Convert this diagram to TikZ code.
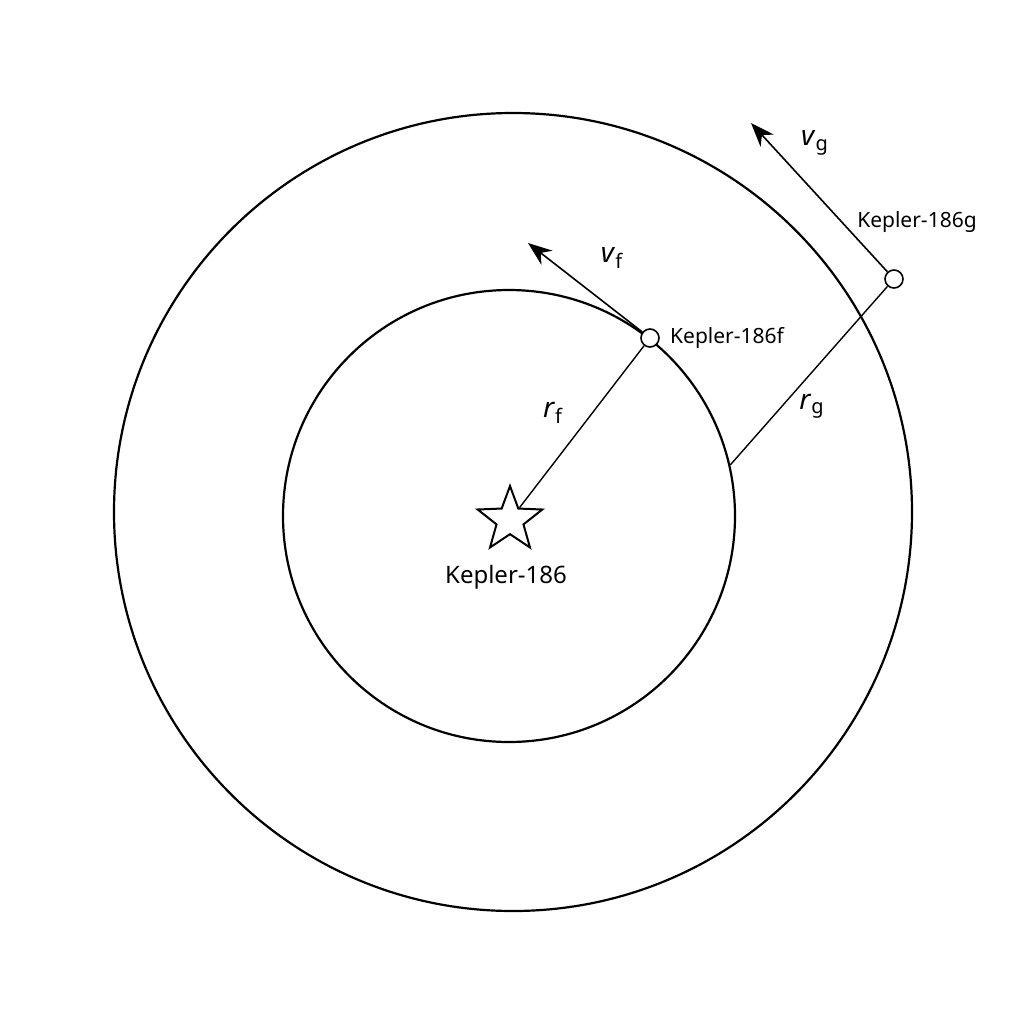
\documentclass[tikz,border=0pt]{standalone}
\usepackage{fontspec}
\setmainfont{Noto Sans}
\usetikzlibrary{shapes.geometric,arrows.meta,positioning}
\tikzset{
    orbit/.style={
           circle,
           draw=black, line width=1.1pt,
           inner sep=0pt
           },
    planet/.style={
           circle,
           draw=black, fill=white, line width=0.8pt,
           minimum size=9pt,
           inner sep=0pt
           },
    sun/.style={
           star, star points=5, star point ratio=2.4,
           draw=black, line width=1pt,
           minimum size=34pt,
           inner sep=0pt
           },
    bodyname/.style={inner sep=0pt, font=\fontsize{10.5}{12}\selectfont},
    symlabel/.style={inner sep=0pt, font=\fontsize{14}{16}\selectfont},
}
\newcommand{\orbsym}[2]{\textit{#1}\textsubscript{\fontsize{10}{12}\selectfont #2}}

\begin{document}
\begin{tikzpicture}[x=0.5pt,y=-0.5pt,thin]
            \useasboundingbox (0,0) rectangle (1024,1024);

%            orbits
             \node[orbit, minimum size=399pt] (orbitg) at (513,512) {};
             \node[orbit, minimum size=226pt] (orbitf) at (509,516) {};

%            star and planets
             \node[sun] (star) at (510,520) {};
             \node[bodyname, font=\fontsize{12}{14}\selectfont] (starname) at (506,577) {Kepler-186};

             \node[planet] (pf) at (650,338) {};
             \node[bodyname, right=5pt of pf] (fname) {Kepler-186f};

             \node[planet] (pg) at (894,279) {};
             \node[bodyname] (gname) at (917,222) {Kepler-186g};

%            radii and velocities
             \coordinate (vftip) at (528,243);
             \coordinate (vgtip) at (751,123);

             \draw[line width=0.7pt] (pf) -- (star);
             \draw[line width=0.7pt] (pg) -- (orbitf.13);
             \draw[-{Stealth[length=12pt,width=9pt]}, line width=0.8pt] (pf) -- (vftip);
             \draw[-{Stealth[length=12pt,width=9pt]}, line width=0.8pt] (pg) -- (vgtip);

             \node[symlabel] (rf) at (553,413) {\orbsym{r}{f}};
             \node[symlabel] (rg) at (812,406) {\orbsym{r}{g}};
             \node[symlabel] (vf) at (612,258) {\orbsym{v}{f}};
             \node[symlabel] (vg) at (815,143) {\orbsym{v}{g}};

        \end{tikzpicture}
\end{document}
